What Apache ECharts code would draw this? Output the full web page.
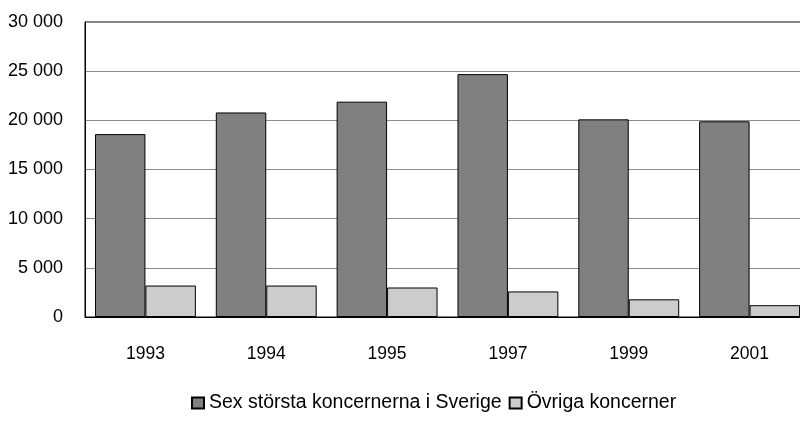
<!DOCTYPE html>
<html>
<head>
<meta charset="utf-8">
<script src="https://cdn.jsdelivr.net/npm/echarts@6/dist/echarts.min.js"></script>
<style>html,body{margin:0;padding:0;background:#fff}#c{width:800px;height:421px}</style>
</head>
<body>
<div id="c"></div>
<script>
const categories = ['1993', '1994', '1995', '1997', '1999', '2001'];
const seriesNames = ['Sex största koncernerna i Sverige', 'Övriga koncerner'];
const sexStorsta = [18600, 20800, 21900, 24700, 20100, 19900];
const ovriga = [3200, 3200, 3000, 2600, 1800, 1200];

function fmt(v) {
  return String(v).replace(/\B(?=(\d{3})+(?!\d))/g, ' ');
}

const FONT = 'Liberation Sans, Arial, sans-serif';

const chart = echarts.init(document.getElementById('c'), null, {renderer: 'canvas'});
chart.setOption({
  animation: false,
  backgroundColor: '#ffffff',
  textStyle: {fontFamily: FONT, color: '#000'},
  grid: {left: 85, width: 725, top: 22, bottom: 104, show: true, borderColor: '#000', borderWidth: 1,
         backgroundColor: 'transparent', containLabel: false, outerBoundsMode: 'none'},
  legend: {
    left: 186, top: 388,
    itemWidth: 12, itemHeight: 11, itemGap: 7,
    icon: 'rect',
    textStyle: {fontSize: 19.5, color: '#000', fontFamily: FONT},
    data: seriesNames
  },
  xAxis: {
    type: 'category',
    data: categories,
    axisLine: {show: true, lineStyle: {color: '#000', width: 1}},
    axisTick: {show: false},
    axisLabel: {fontSize: 17.5, color: '#000', margin: 28, fontFamily: FONT},
    splitLine: {show: false}
  },
  yAxis: {
    type: 'value',
    min: 0, max: 30000, interval: 5000,
    axisLine: {show: true, lineStyle: {color: '#000', width: 1}},
    axisTick: {show: false},
    axisLabel: {fontSize: 18, color: '#000', margin: 22, formatter: fmt, fontFamily: FONT},
    splitLine: {show: true, lineStyle: {color: '#8c8c8c', width: 1}}
  },
  series: [
    {
      name: seriesNames[0], type: 'bar', data: sexStorsta,
      barGap: '0%', barCategoryGap: '16.5%',
      itemStyle: {color: '#808080', borderColor: '#000', borderWidth: 1}
    },
    {
      name: seriesNames[1], type: 'bar', data: ovriga,
      barGap: '0%', barCategoryGap: '16.5%',
      itemStyle: {color: '#cccccc', borderColor: '#000', borderWidth: 1}
    }
  ]
});
</script>
</body>
</html>
